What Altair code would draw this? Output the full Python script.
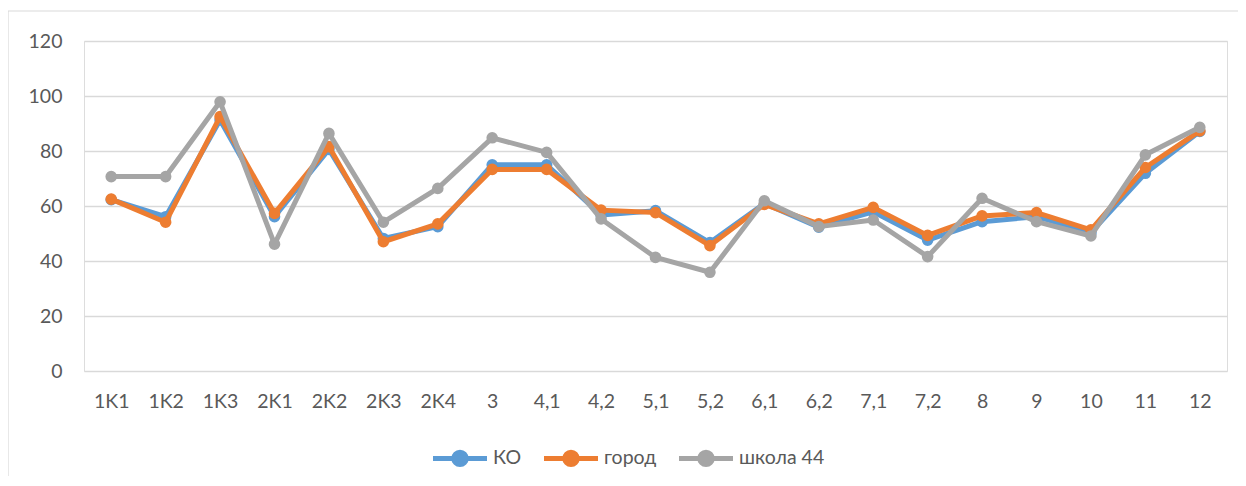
import altair as alt
import pandas as pd

categories = ["1K1", "1K2", "1K3", "2K1", "2K2", "2K3", "2K4", "3", "4,1", "4,2",
              "5,1", "5,2", "6,1", "6,2", "7,1", "7,2", "8", "9", "10", "11", "12"]
ko = [62.3, 56.1, 91.3, 56.1, 80.6, 48.2, 52.5, 75.0, 75.0, 56.7,
      58.3, 46.7, 60.9, 52.3, 57.9, 47.6, 54.3, 56.1, 50.3, 71.9, 87.1]
gorod = [62.5, 54.1, 92.5, 57.3, 81.6, 47.0, 53.5, 73.3, 73.3, 58.5,
         57.6, 45.6, 60.6, 53.5, 59.5, 49.3, 56.4, 57.6, 51.3, 74.0, 87.3]
shkola = [70.7, 70.7, 97.9, 46.1, 86.4, 54.1, 66.4, 84.8, 79.5, 55.3,
          41.3, 35.9, 61.9, 52.5, 54.9, 41.6, 62.8, 54.3, 49.1, 78.6, 88.6]
series_names = ["КО", "город", "школа 44"]
series_colors = ["#5B9BD5", "#ED7D31", "#A5A5A5"]

rows = []
for name, vals in zip(series_names, [ko, gorod, shkola]):
    for c, v in zip(categories, vals):
        rows.append({"cat": c, "val": v, "series": name})
df = pd.DataFrame(rows)

FONT = "Lato"
TXT = "#595959"

x = alt.X("cat:O", sort=categories, title=None,
          scale=alt.Scale(type="point", padding=0.5),
          axis=alt.Axis(labelAngle=0, domain=False, ticks=False, grid=False,
                        labelPadding=21, labelFontSize=19.5, labelColor=TXT, labelFont=FONT))
y = alt.Y("val:Q", title=None,
          scale=alt.Scale(domain=[0, 120], nice=False),
          axis=alt.Axis(values=[0, 20, 40, 60, 80, 100, 120], domain=False, ticks=False,
                        gridColor="#D9D9D9", gridWidth=1.5,
                        labelPadding=22, labelFontSize=19.5, labelColor=TXT, labelFont=FONT))

# wide line-with-dot legend glyph (drawn twice as wide as its layout box)
legend_path = ("M-2,0H2M0.46,0A0.46,0.46,0,1,1,-0.46,0A0.46,0.46,0,1,1,0.46,0Z")

color = alt.Color("series:N", sort=series_names,
                  scale=alt.Scale(domain=series_names, range=series_colors),
                  legend=alt.Legend(title=None, orient="none", direction="horizontal",
                                    legendX=360, legendY=401,
                                    symbolType=legend_path, symbolSize=729,
                                    symbolStrokeWidth=5, symbolOpacity=1,
                                    labelFontSize=19.5, labelColor=TXT, labelFont=FONT,
                                    labelOffset=17, columnPadding=12))

base = alt.Chart(df)
lines = []
for name in series_names:
    sub = base.transform_filter(alt.datum.series == name)
    lines.append(sub.mark_line(strokeWidth=5, strokeJoin="round").encode(x=x, y=y, color=color))
    lines.append(sub.mark_point(filled=True, size=135, opacity=1).encode(x=x, y=y, color=color))

top_border = alt.Chart(pd.DataFrame({"a": [0]})).mark_rule(color="#D9D9D9", strokeWidth=1.2).encode(
    x=alt.value(-76), x2=alt.value(1170), y=alt.value(-30))
left_border = alt.Chart(pd.DataFrame({"a": [0]})).mark_rule(color="#D9D9D9", strokeWidth=1.2).encode(
    x=alt.value(-76), y=alt.value(-30), y2=alt.value(440))

chart = alt.layer(top_border, left_border, *lines).properties(
    width=1143, height=330,
    autosize=alt.AutoSizeParams(type="none"),
    padding={"left": 76, "top": 33, "right": 11, "bottom": 105},
).configure_view(stroke=None).configure(font=FONT)

chart.save("out.html", embed_options={"renderer": "svg", "actions": False})
